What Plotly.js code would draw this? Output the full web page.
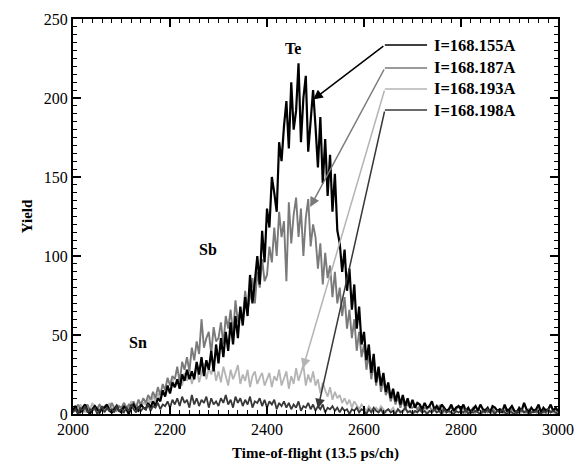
<!DOCTYPE html>
<html>
<head>
<meta charset="utf-8">
<script src="https://cdn.plot.ly/plotly-3.0.1.min.js"></script>
<style>html,body{margin:0;padding:0;background:#fff;}#chart{width:576px;height:462px;}</style>
</head>
<body>
<div id="chart"></div>
<script>
// Time-of-flight channels: sampled every 5 channels from 2000 to 3000
const channelStart = 2000;
const channelStep = 5;

const seriesNames = ["I=168.155A", "I=168.187A", "I=168.193A", "I=168.198A"];

const yield155 = [
  2,5,1,1,4,6,2,0,3,5,
  3,1,4,4,6,2,1,3,5,2,
  1,5,3,0,4,6,3,2,6,4,
  3,7,4,8,5,10,8,15,11,18,
  13,20,17,22,16,25,21,28,22,27,
  22,33,25,36,24,34,28,40,27,44,
  32,48,36,52,40,58,44,62,48,68,
  56,74,62,88,70,84,100,82,116,96,
  130,118,150,140,128,172,160,182,198,168,
  210,180,192,222,172,200,214,166,188,205,
  182,156,188,146,174,138,164,128,152,116,
  108,90,104,78,92,66,82,54,68,44,
  52,34,44,26,38,20,30,18,26,14,
  20,10,16,8,14,6,12,5,10,4,
  9,4,7,6,3,7,4,5,8,3,
  5,2,6,4,2,3,6,2,4,5,
  3,6,2,4,1,3,5,2,6,3,
  2,4,1,5,4,2,3,1,6,2,
  3,5,2,1,4,2,7,3,1,4,
  2,3,6,1,4,2,3,6,2,4,
  2
];

const yield187 = [
  4,2,6,3,1,4,6,2,3,5,
  3,6,2,4,5,3,7,4,2,5,
  4,7,3,6,5,8,4,9,6,10,
  7,12,9,14,10,17,12,19,15,23,
  18,24,22,30,20,33,28,36,27,42,
  34,46,38,60,42,48,52,38,55,46,
  48,58,44,62,54,66,50,72,58,66,
  60,78,66,74,86,70,90,80,98,84,
  88,106,96,118,100,128,112,122,84,134,
  108,126,137,112,130,100,124,136,106,120,
  112,92,108,82,102,86,94,74,90,70,
  80,62,74,54,66,48,60,40,52,36,
  44,28,38,22,32,18,28,14,22,12,
  16,8,13,6,11,4,9,3,7,4,
  4,6,3,5,2,4,3,5,2,4,
  3,5,2,4,1,3,4,2,3,5,
  2,4,1,3,2,4,1,3,2,1,
  3,1,2,4,1,2,3,1,2,3,
  1,3,2,1,3,2,1,2,3,1,
  2,1,3,2,1,3,2,1,2,3,
  1
];

const yield193 = [
  3,5,2,6,4,1,5,3,7,2,
  4,6,3,5,2,7,4,3,6,5,
  3,7,5,4,8,6,3,9,5,7,
  6,9,7,11,8,13,10,15,12,17,
  14,22,17,20,24,18,26,21,28,19,
  24,30,20,26,32,22,29,25,31,21,
  27,20,30,24,18,28,22,26,31,19,
  25,21,28,17,24,27,19,23,26,18,
  22,26,17,24,21,28,18,23,27,16,
  24,19,29,21,26,31,18,25,20,27,
  18,22,13,20,15,11,17,9,14,10,
  12,7,10,6,9,4,8,5,3,6,
  4,2,5,3,1,4,2,5,3,1,
  3,2,4,1,3,2,1,3,2,1,
  2,1,3,2,1,2,1,2,1,2,
  1,2,0,1,2,1,0,2,1,1,
  2,0,1,2,1,0,2,1,0,1,
  1,2,1,0,1,2,1,1,0,2,
  0,1,2,1,0,1,2,0,1,1,
  2,1,0,1,2,0,1,2,1,0,
  1
];

const yield198 = [
  1,3,0,4,2,5,1,3,2,4,
  0,3,5,1,4,2,3,1,5,2,
  3,1,4,2,6,3,1,5,2,4,
  3,6,2,5,4,7,3,6,5,8,
  4,9,6,10,5,11,7,9,4,12,
  6,10,5,9,7,11,4,10,6,8,
  5,10,7,12,6,9,4,11,7,10,
  5,9,6,11,4,8,7,10,5,9,
  4,8,6,9,3,7,5,8,4,7,
  3,6,4,8,2,5,4,7,3,6,
  2,5,3,6,1,4,3,5,2,4,
  1,4,2,3,0,3,2,4,1,3,
  2,0,3,1,4,2,1,3,0,2,
  3,1,2,0,3,1,2,4,1,2,
  0,2,1,3,1,2,0,2,1,3,
  1,2,0,3,1,2,1,0,2,1,
  2,1,3,0,2,1,2,1,0,2,
  1,3,1,2,0,2,1,3,1,0,
  2,1,0,2,1,3,1,2,0,1,
  1,2,1,0,2,1,3,1,2,1,
  0
];

// Peak labels
const peakLabels = ["Te", "Sb", "Sn"];
const peakX = [2454, 2278, 2134];
const peakY = [231.6, 104.4, 45];

// Arrow tips (where each legend arrow points to its curve)
const arrowTipX = [2495, 2489, 2474, 2505];
const arrowTipY = [199, 131, 29, 3.5];
const legendRowY = [233.5, 219, 205.7, 192.4];

const channels = yield155.map((_, i) => channelStart + i * channelStep);

const colors = ["black", "#7a7a7a", "#b4b4b4", "#383838"];
const widths = [2.2, 1.9, 1.8, 1.8];
const allYields = [yield155, yield187, yield193, yield198];
const drawOrder = [2, 1, 0, 3];

const serif = "'Liberation Serif', 'Times New Roman', Times, serif";
const bold = v => "<b>" + v + "</b>";

const traces = drawOrder.map(k => ({
  type: "scatter",
  mode: "lines",
  x: channels,
  y: allYields[k],
  name: seriesNames[k],
  line: { color: colors[k], width: widths[k] },
  hoverinfo: "skip"
}));

const annotations = [];
const shapes = [];
const legendLineStartX = 2643;
const legendLineEndX = 2730;
const legendTextX = 2740;

peakLabels.forEach((t, i) => {
  annotations.push({
    x: peakX[i], y: peakY[i], xref: "x", yref: "y",
    text: bold(t), showarrow: false,
    font: { family: serif, size: 16, color: "black" }
  });
});

seriesNames.forEach((n, i) => {
  annotations.push({
    x: legendTextX, y: legendRowY[i], xref: "x", yref: "y",
    text: bold(n), showarrow: false, xanchor: "left", yanchor: "middle",
    font: { family: serif, size: 16.5, color: "black" }
  });
  annotations.push({
    x: arrowTipX[i], y: arrowTipY[i], xref: "x", yref: "y",
    ax: legendLineStartX, ay: legendRowY[i], axref: "x", ayref: "y",
    text: "", showarrow: true, arrowhead: 2, arrowsize: 1.3, arrowwidth: 1.5,
    arrowcolor: colors[i]
  });
  shapes.push({
    type: "line", xref: "x", yref: "y",
    x0: legendLineStartX, x1: legendLineEndX, y0: legendRowY[i], y1: legendRowY[i],
    line: { color: colors[i], width: 1.5 }
  });
});

const tickFont = { family: serif, size: 16, color: "black" };

const layout = {
  width: 576, height: 462,
  margin: { l: 73, r: 18, t: 19, b: 48 },
  showlegend: false,
  xaxis: {
    range: [2000, 3000], tickmode: "linear", tick0: 2000, dtick: 200,
    ticks: "inside", ticklen: 8, tickwidth: 2, tickcolor: "black",
    minor: { dtick: 20, ticks: "inside", ticklen: 4, tickwidth: 1, tickcolor: "black" },
    showline: true, linewidth: 2, linecolor: "black", mirror: "allticks",
    showgrid: false, zeroline: false,
    tickfont: tickFont,
    title: { text: bold("Time-of-flight (13.5 ps/ch)"),
             font: { family: serif, size: 15, color: "black" } }
  },
  yaxis: {
    range: [0, 250], tickmode: "linear", tick0: 0, dtick: 50,
    ticks: "inside", ticklen: 8, tickwidth: 2, tickcolor: "black",
    minor: { dtick: 5, ticks: "inside", ticklen: 4, tickwidth: 1, tickcolor: "black" },
    showline: true, linewidth: 2, linecolor: "black", mirror: "allticks",
    showgrid: false, zeroline: false,
    tickfont: tickFont,
    title: { text: bold("Yield"),
             font: { family: serif, size: 15, color: "black" } }
  },
  annotations: annotations,
  shapes: shapes
};

Plotly.newPlot("chart", traces, layout, { displayModeBar: false });
</script>
</body>
</html>
